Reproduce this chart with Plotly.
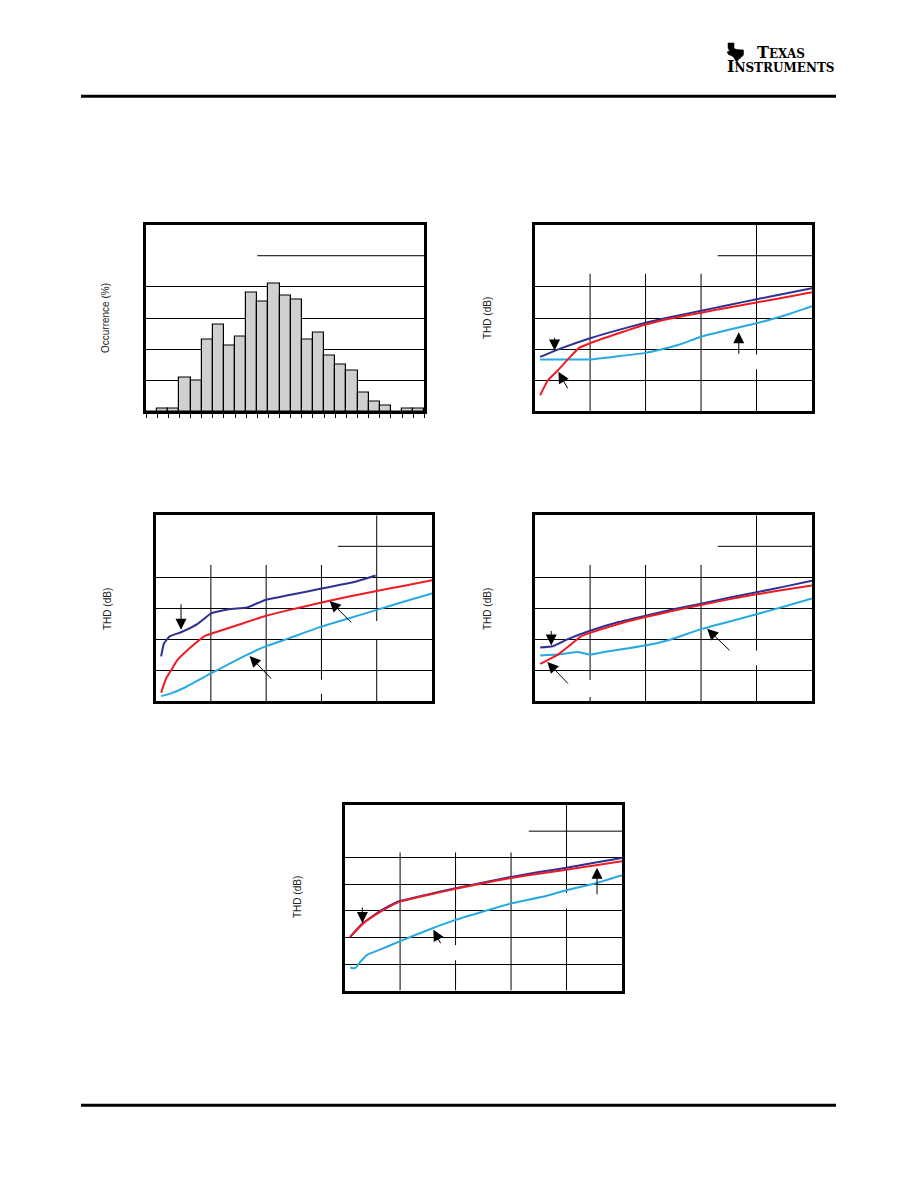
import plotly.graph_objects as go

# browser page is 918x1188; the HTML body has an 8px default margin
PAGE_W, PAGE_H = 918, 1188
OFF = 8
W, H = PAGE_W - 2 * OFF, PAGE_H - 2 * OFF

# ---------------- data ----------------
# Chart 1: histogram (bin index 0..24), occurrence in %
hist_bins = list(range(25))
hist_pct = [0, 0.26, 0.26, 2.7, 2.5, 5.75, 7.0, 5.3, 6.0, 9.5, 8.8, 10.3, 9.3, 9.0,
            5.75, 6.3, 4.5, 3.75, 3.3, 1.5, 0.75, 0.5, 0, 0.26, 0.26]

# Chart 2: THD (dB)
c2_navy_x = [0.1, 0.5, 1.0, 1.5, 2.0, 2.5, 3.0, 3.5, 4.0, 4.5, 5.0]
c2_navy_y = [-102.5, -99.6, -96.5, -93.9, -91.5, -89.5, -87.7, -85.8, -84.0, -82.2, -80.4]
c2_red_x = [0.1, 0.24, 0.42, 0.6, 0.8, 1.0, 1.5, 2.0, 2.5, 3.0, 3.5, 4.0, 4.5, 5.0]
c2_red_y = [-114.8, -110.0, -106.8, -103.3, -99.6, -98.1, -95.0, -92.1, -90.0, -88.3, -86.6, -85.0, -83.4, -81.7]
c2_lb_x = [0.1, 0.5, 1.0, 1.5, 2.0, 2.26, 2.6, 3.0, 3.5, 4.0, 4.5, 5.0]
c2_lb_y = [-103.3, -103.3, -103.3, -102.3, -101.2, -100.2, -98.6, -96.0, -93.8, -91.7, -89.2, -86.2]

# Chart 3
c3_navy_x = [0.1, 0.15, 0.25, 0.46, 0.76, 0.875, 1.0, 1.35, 1.65, 2.0, 2.42, 2.98, 3.61, 3.98]
c3_navy_y = [-105.5, -101.4, -99.1, -97.7, -95.0, -93.4, -91.6, -90.2, -89.7, -87.2, -85.7, -83.7, -81.4, -79.4]
c3_red_x = [0.1, 0.19, 0.28, 0.39, 0.64, 0.9, 1.0, 1.5, 2.0, 2.5, 3.0, 3.5, 4.0, 4.5, 5.0]
c3_red_y = [-117.2, -112.6, -110.0, -106.8, -102.5, -98.8, -98.2, -95.3, -92.4, -90.2, -88.1, -86.2, -84.4, -82.7, -80.9]
c3_lb_x = [0.1, 0.28, 0.52, 1.0, 1.65, 2.0, 2.42, 3.0, 3.5, 4.0, 4.5, 5.0]
c3_lb_y = [-118.3, -117.4, -115.6, -111.0, -105.0, -102.2, -99.6, -95.9, -93.2, -90.5, -87.8, -85.2]

# Chart 4
c4_navy_x = [0.1, 0.33, 0.6, 1.0, 1.5, 2.0, 2.5, 3.0, 3.5, 4.0, 4.5, 5.0]
c4_navy_y = [-102.6, -102.2, -99.9, -97.2, -94.5, -92.4, -90.3, -88.5, -86.6, -84.8, -83.0, -81.1]
c4_red_x = [0.1, 0.42, 0.65, 0.83, 1.0, 1.5, 2.0, 2.5, 3.0, 3.5, 4.0, 4.5, 5.0]
c4_red_y = [-107.9, -104.9, -101.7, -99.1, -97.9, -95.1, -92.8, -90.8, -88.9, -87.1, -85.5, -84.0, -82.6]
c4_lb_x = [0.1, 0.42, 0.77, 1.0, 1.25, 1.6, 2.0, 2.44, 3.0, 3.5, 4.0, 4.5, 5.0]
c4_lb_y = [-105.2, -104.9, -104.1, -104.9, -104.1, -103.1, -102.0, -100.1, -96.7, -94.3, -91.9, -89.4, -86.8]

# Chart 5
c5_navy_x = [0.1, 0.33, 0.65, 0.92, 1.0, 1.5, 2.0, 2.5, 3.0, 3.5, 4.0, 4.5, 5.0]
c5_navy_y = [-109.8, -104.6, -99.9, -96.9, -96.3, -93.8, -91.5, -89.3, -87.2, -85.4, -83.8, -81.9, -80.1]
c5_red_x = [0.1, 0.33, 0.65, 0.92, 1.0, 1.5, 2.0, 2.5, 3.0, 3.5, 4.0, 4.5, 5.0]
c5_red_y = [-109.8, -104.8, -100.3, -97.2, -96.5, -94.0, -91.7, -89.6, -87.6, -86.0, -84.5, -82.9, -81.3]
c5_lb_x = [0.1, 0.19, 0.27, 0.42, 0.65, 1.0, 1.55, 2.0, 2.44, 3.0, 3.63, 4.0, 4.55, 5.0]
c5_lb_y = [-121.3, -121.6, -119.5, -116.4, -114.5, -111.4, -106.8, -103.4, -100.6, -97.2, -94.4, -92.2, -89.5, -86.6]

NAVY = "#2E3192"
RED = "#ED1C24"
LBLUE = "#27AAE1"

# ---------------- helpers (page pixel -> paper fraction) ----------------
def fx(px):
    return (px - OFF) / W

def fy(py):
    return 1 - (py - OFF) / H

def dom_x(a, b):
    return [fx(a), fx(b)]

def dom_y(top, bottom):
    return [fy(bottom), fy(top)]

fig = go.Figure()

# Chart 1 histogram
fig.add_trace(go.Bar(x=[b + 0.5 for b in hist_bins], y=hist_pct, width=1,
                     marker=dict(color="#D0D0D0", line=dict(color="black", width=1.2)),
                     xaxis="x", yaxis="y", hoverinfo="skip"))

charts = [
    ("2", c2_navy_x, c2_navy_y, c2_red_x, c2_red_y, c2_lb_x, c2_lb_y),
    ("3", c3_navy_x, c3_navy_y, c3_red_x, c3_red_y, c3_lb_x, c3_lb_y),
    ("4", c4_navy_x, c4_navy_y, c4_red_x, c4_red_y, c4_lb_x, c4_lb_y),
    ("5", c5_navy_x, c5_navy_y, c5_red_x, c5_red_y, c5_lb_x, c5_lb_y),
]
for n, nx, ny, rx, ry, lx, ly in charts:
    for xs, ys, col in ((lx, ly, LBLUE), (nx, ny, NAVY), (rx, ry, RED)):
        fig.add_trace(go.Scatter(x=xs, y=ys, mode="lines",
                                 line=dict(color=col, width=2, shape="spline", smoothing=0.4),
                                 xaxis="x" + n, yaxis="y" + n, hoverinfo="skip"))

# ---------------- axes ----------------
box = dict(showline=True, linecolor="black", linewidth=2.5, mirror=True,
           zeroline=False, showticklabels=False, fixedrange=True)

domains = {
    "1": ((146, 424.3), (224.6, 411.4)),
    "2": ((534.6, 812), (224.6, 411.4)),
    "3": ((155.6, 432), (515.3, 701.4)),
    "4": ((534.6, 812), (515.3, 701.4)),
    "5": ((344.6, 622), (804.6, 990.6)),
}

layout_axes = {}
# chart 1
layout_axes["xaxis"] = dict(box, domain=dom_x(*domains["1"][0]), range=[0, 25], anchor="y",
                            tickmode="array", tickvals=list(range(26)), ticks="outside",
                            ticklen=4, tickwidth=1, tickcolor="black", showgrid=False)
layout_axes["yaxis"] = dict(box, domain=dom_y(*domains["1"][1]), range=[0, 15], anchor="x",
                            tickmode="array", tickvals=[2.5, 5, 7.5, 10], ticks="",
                            showgrid=True, gridcolor="black", gridwidth=1)
for n in ["2", "3", "4", "5"]:
    ylo = -130 if n == "5" else -120
    layout_axes["xaxis" + n] = dict(box, domain=dom_x(*domains[n][0]), range=[0, 5],
                                    anchor="y" + n, ticks="", showgrid=False)
    layout_axes["yaxis" + n] = dict(box, domain=dom_y(*domains[n][1]), range=[ylo, -60],
                                    anchor="x" + n, ticks="", tickmode="array",
                                    tickvals=list(range(ylo + 10, -70, 10)),
                                    showgrid=True, gridcolor="black", gridwidth=1)

# ---------------- partial grid lines (shapes) ----------------
shapes = []
def seg(n, x0, y0, x1, y1, w=1):
    sx = "x" if n == "1" else "x" + n
    sy = "y" if n == "1" else "y" + n
    shapes.append(dict(type="line", xref=sx, yref=sy, x0=x0, y0=y0, x1=x1, y1=y1,
                       line=dict(color="black", width=w), layer="below"))

seg("1", 10, 12.5, 25, 12.5)
for n in ["2", "3", "4"]:
    seg(n, 3.3, -70, 5, -70)
seg("5", 3.32, -70, 5, -70)

vgrid = {
    "2": {1: [(-120, -75.8)], 2: [(-120, -75.8)], 3: [(-120, -75.8)],
          4: [(-120, -106.5), (-101.7, -60)]},
    "3": {1: [(-120, -76)], 2: [(-120, -76)], 3: [(-120, -117.6), (-113, -76)],
          4: [(-120, -100.1), (-94.1, -60)]},
    "4": {1: [(-120, -118.6), (-113.1, -76)], 2: [(-120, -76)], 3: [(-120, -76)],
          4: [(-120, -108.4), (-103.6, -60)]},
    "5": {1: [(-130, -78)], 2: [(-130, -118.6), (-112.9, -78)], 3: [(-130, -78)],
          4: [(-130, -99.1), (-93.2, -60)]},
}
for n, d in vgrid.items():
    for xv, segs in d.items():
        for a, b in segs:
            seg(n, xv, a, xv, b)

# page rules
for yy in (96.3, 1105.3):
    shapes.append(dict(type="line", xref="paper", yref="paper", x0=fx(81), x1=fx(836),
                       y0=fy(yy), y1=fy(yy), line=dict(color="black", width=3)))

# TI logo icon (rough Texas outline)
tex_pts = [(728, 43), (734, 43), (734, 48.5), (737, 49.5), (743.5, 50), (743.5, 55),
           (741, 57.5), (738, 60), (737, 62.5), (735.5, 60.5), (733.5, 57), (731, 55.5),
           (728.5, 54.5), (727, 52), (729.5, 51), (728, 48)]
path = "M " + " L ".join(f"{fx(x):.5f},{fy(y):.5f}" for x, y in tex_pts) + " Z"
shapes.append(dict(type="path", xref="paper", yref="paper", path=path,
                   fillcolor="black", line=dict(color="black", width=0.5)))

# ---------------- annotations ----------------
ann = []
def arrow(n, x, y, ax, ay):
    ann.append(dict(xref="x" + n, yref="y" + n, x=x, y=y, ax=ax, ay=ay, text="",
                    showarrow=True, arrowhead=2, arrowsize=2.2, arrowwidth=1,
                    arrowcolor="black"))

arrow("2", 0.36, -100.4, 0, -14)
arrow("2", 0.43, -107.3, 10, 18)
arrow("2", 3.68, -94.6, 0, 23)
arrow("3", 0.46, -96.9, 0, -27)
arrow("3", 3.15, -87.6, 23, 23)
arrow("3", 1.70, -105.4, 23, 24)
arrow("4", 0.30, -102.0, 0, -16)
arrow("4", 0.23, -107.3, 22, 23)
arrow("4", 3.11, -96.6, 24, 23)
arrow("5", 0.32, -104.6, 0, -17)
arrow("5", 1.60, -107.1, 8, 15)
arrow("5", 4.55, -83.8, 0, 28)

def ytitle(text, xc, yc):
    ann.append(dict(xref="paper", yref="paper", x=fx(xc), y=fy(yc), text=text,
                    textangle=-90, showarrow=False, xanchor="center", yanchor="middle",
                    font=dict(family="Liberation Sans, Arial, sans-serif", size=10,
                              color="#222")))

ytitle("Occurrence (%)", 105, 318)
ytitle("THD (dB)", 487, 318)
ytitle("THD (dB)", 107, 609)
ytitle("THD (dB)", 487, 609)
ytitle("THD (dB)", 297, 897)

logo_font = dict(family="DejaVu Serif, Liberation Serif, serif", size=12, color="black")
ann.append(dict(xref="paper", yref="paper", x=fx(755), y=fy(52.5), xanchor="left",
                yanchor="middle", showarrow=False, font=logo_font,
                text='<b><span style="font-size:16px">T</span>EXAS</b>'))
ann.append(dict(xref="paper", yref="paper", x=fx(725), y=fy(66.5), xanchor="left",
                yanchor="middle", showarrow=False, font=logo_font,
                text='<b><span style="font-size:16px">I</span>NSTRUMENTS</b>'))

fig.update_layout(
    width=W, height=H, margin=dict(l=0, r=0, t=0, b=0),
    paper_bgcolor="white", plot_bgcolor="white", showlegend=False,
    bargap=0, shapes=shapes, annotations=ann, **layout_axes,
)

fig.write_html("out.html")
